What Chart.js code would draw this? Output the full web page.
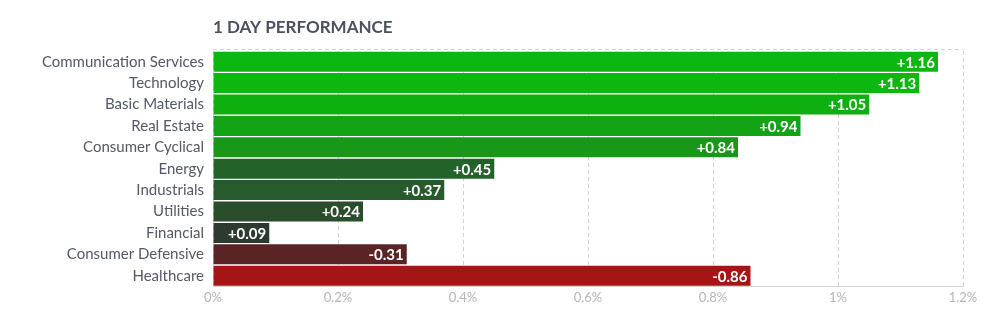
<!DOCTYPE html>
<html>
<head>
<meta charset="utf-8">
<title>1 Day Performance</title>
<script src="https://cdn.jsdelivr.net/npm/chart.js@4.4.1/dist/chart.umd.min.js"></script>
<style>
  html, body { margin: 0; padding: 0; background: #fff; }
  #wrap { width: 995px; height: 335px; position: relative; }
</style>
</head>
<body>
<div id="wrap"><canvas id="perfChart"></canvas></div>
<script>
// sector moves for the day, in percent
const sectors = [
  'Communication Services', 'Technology', 'Basic Materials', 'Real Estate',
  'Consumer Cyclical', 'Energy', 'Industrials', 'Utilities', 'Financial',
  'Consumer Defensive', 'Healthcare'
];
const changes = [1.16, 1.13, 1.05, 0.94, 0.84, 0.45, 0.37, 0.24, 0.09, -0.31, -0.86];
const xTicks = [0, 0.2, 0.4, 0.6, 0.8, 1, 1.2];

const barColors = [
  '#0cb80f', '#0cb80f', '#0eb00f', '#12a316', '#199719',
  '#236329', '#275a2c', '#2a4d2b', '#2e3a2f', '#5a2425', '#a51516'
];

const fontFamily = 'Lato, "Open Sans", sans-serif';
const gridColor = '#d2d2d8';

// title, dashed frame and value labels
const decorPlugin = {
  id: 'decor',
  beforeDatasetsDraw(chart) {
    const { ctx, chartArea: a } = chart;
    ctx.save();
    ctx.strokeStyle = gridColor;
    ctx.lineWidth = 1;
    ctx.setLineDash([4, 3]);
    ctx.beginPath();
    ctx.moveTo(a.left, a.top - 1.5);
    ctx.lineTo(a.right, a.top - 1.5);
    ctx.stroke();
    ctx.restore();
  },
  afterDatasetsDraw(chart) {
    const { ctx, chartArea: a } = chart;
    ctx.save();
    ctx.fillStyle = '#4b505e';
    ctx.font = 'bold 17px ' + fontFamily;
    ctx.textAlign = 'left';
    ctx.textBaseline = 'middle';
    ctx.fillText('1 DAY PERFORMANCE', a.left, 28);

    ctx.fillStyle = '#ffffff';
    ctx.font = 'bold 15px ' + fontFamily;
    ctx.textAlign = 'right';
    const meta = chart.getDatasetMeta(0);
    meta.data.forEach((bar, i) => {
      const v = changes[i];
      const txt = (v > 0 ? '+' : '') + v.toFixed(2);
      ctx.fillText(txt, bar.x - 3, bar.y + 1);
    });
    ctx.restore();
  }
};

new Chart(document.getElementById('perfChart'), {
  type: 'bar',
  data: {
    labels: sectors,
    datasets: [{
      data: changes.map(v => Math.abs(v)),
      backgroundColor: barColors,
      barPercentage: 0.935,
      categoryPercentage: 1
    }]
  },
  options: {
    indexAxis: 'y',
    responsive: true,
    maintainAspectRatio: false,
    animation: false,
    layout: { padding: { top: 51, right: 32, bottom: 25, left: 0 } },
    plugins: {
      legend: { display: false },
      tooltip: { enabled: false }
    },
    scales: {
      x: {
        min: 0,
        max: 1.2,
        afterBuildTicks(scale) {
          scale.ticks = xTicks.map(v => ({ value: v }));
        },
        grid: {
          color: gridColor,
          drawTicks: false,
          tickBorderDash: [4, 3]
        },
        border: { display: true, color: gridColor, dash: [4, 3] },
        ticks: {
          padding: 4,
          color: '#b4b4bc',
          font: { family: fontFamily, size: 13 },
          callback: v => v + '%'
        }
      },
      y: {
        afterFit(scale) { scale.width = 213; },
        grid: { display: false, drawTicks: false },
        border: { display: false },
        ticks: {
          padding: 9,
          color: '#545968',
          font: { family: fontFamily, size: 15 }
        }
      }
    }
  },
  plugins: [decorPlugin]
});
</script>
</body>
</html>
